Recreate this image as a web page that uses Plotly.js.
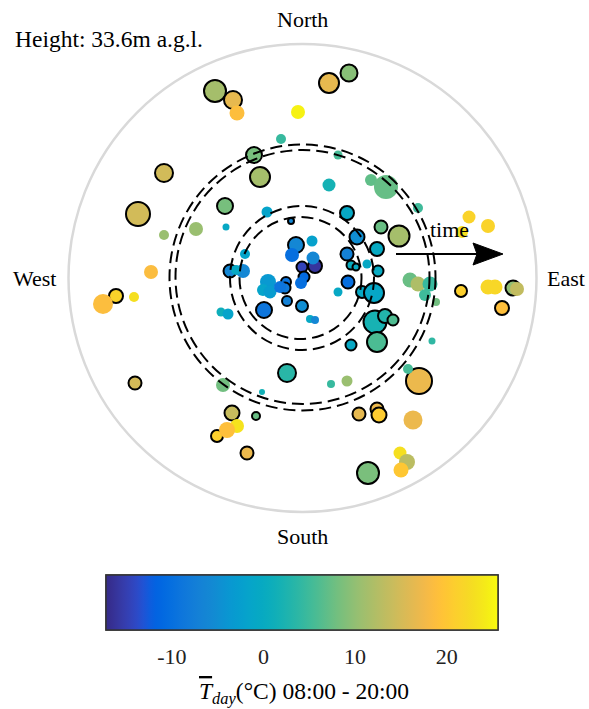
<!DOCTYPE html>
<html><head><meta charset="utf-8">
<script src="https://cdn.plot.ly/plotly-3.0.1.min.js"></script>
<style>html,body{margin:0;padding:0;background:#fff}</style>
</head><body>
<div id="chart" style="width:589px;height:709px"></div>
<script>
// ---- data (east/north offsets, diameter, mean day temperature) ----
// outlined bubbles
const outX = [-87,-69,-48,-42,-138,27,47,-77,-11,45,79,97,55,75,45,49,54,76,46,60,72,73,83,91,75,49,-6,0,13,2,-16,-17,-15,0,-38,-72,159,211,200,-164,-186,-167,-15,117,-70,-46,-85,-55,57,75,77,66];
const outY = [187,178,123,101,105,195,205,72,57,65,51,42,41,29,24,13,11,7,-4,-14,-15,-44,-38,-42,-64,-67,33,11,12,1,-4,-10,-23,-28,-32,7,-13,-10,-30,64,-18,-105,-95,-103,-135,-138,-158,-175,-136,-131,-137,-195];
const outD = [24,20,18,22,20,22,19,18,8,16,15,23,17,16,15,11,9,13,15,14,22,25,16,13,22,13,18,13,16,13,12,13,12,14,18,15,14,17,16,26,16,15,20,28,17,10,14,15,15,15,17,24];
const outT = [11.3,16.6,8.3,11.3,14.8,16.6,9.3,8.3,-6,-0.5,7.5,11.3,-5,-0.3,-7,0.5,0,0,-10,-0.5,-1,2,3,6,5.8,-0.5,-6,-14.5,-16,-11,-9,-8,-7,-5,-9,-6,21,10,19,14.8,21.5,15,3.5,17,14,7.5,21,17,16.5,17,20.5,8.5];
// bubbles without outline
const fillX = [-65,-4,-21,36,27,69,84,-106,-76,-35,65,36,130,108,116,128,123,134,116,167,186,160,186,193,215,-138,-151,-199,-168,10,-10,11,-1,-34,-39,-32,-22,8,13,-81,-74,-59,-66,-57,-79,-40,29,45,106,111,-65,-75,98,105,99];
const fillY = [165,166,139,123,93,98,91,49,51,66,14,-14,-63,-2,-6,-6,-17,-24,70,61,52,46,-9,-9,-11,43,6,-26,-19,37,23,20,-5,-4,-12,-14,-9,-41,-42,-34,-36,7,8,24,-107,-114,-106,-103,-91,-142,-148,-152,-175,-184,-192];
const fillD = [15,14,10,9,13,12,24,14,7,11,9,9,7,15,15,15,12,8,10,13,14,12,15,15,14,10,14,20,10,11,14,13,12,16,12,13,12,8,8,9,11,14,10,10,14,6,8,11,10,19,14,16,13,16,15];
const fillT = [18.8,24.8,4.5,5.5,1.8,7,7.3,10.5,-0.5,-1.5,-0.5,-0.5,4,7.5,12,4.5,5,8,5,21.5,21.5,23,22,22,13.5,10.5,18.5,18.7,23,-2,-10,-6,-10,-3.5,-1.5,-3,-9,-0.5,-6,1,-1.5,-6,-0.5,-1.5,8,1.5,4.5,10.5,5.5,17,23.5,19,23,13,20];

// colour bar
const tMin = -17.2, tMax = 25.6;
const tickVals = [-10, 0, 10, 20];
const tickText = ['-10', '0', '10', '20'];

// reference rings
const outerR = 234, outerCX = 0.5, outerCY = 0;
const dashCX = [0.5, 0.5, 0, -1.5];
const dashCY = [0.5, 1, 0, 0];
const dashR = [133, 127, 72, 61];

// compass labels
const compassText = ['North', 'South', 'West', 'East'];
const compassX = [0.5, 0.5, -268, 264];
const compassY = [259, -258, 0, 0];

// time arrow
const arrowX0 = 94, arrowX1 = 201, arrowY = 24, headLen = 30, headHalf = 11;

// parula (64)
const parula = [[0.2081,0.1663,0.5292],[0.2116,0.1898,0.5777],[0.2123,0.2138,0.6270],[0.2081,0.2386,0.6771],[0.1959,0.2645,0.7279],[0.1707,0.2919,0.7792],[0.1253,0.3242,0.8303],[0.0591,0.3598,0.8683],[0.0117,0.3875,0.8820],[0.0060,0.4086,0.8828],[0.0165,0.4266,0.8786],[0.0329,0.4430,0.8720],[0.0498,0.4586,0.8641],[0.0629,0.4737,0.8554],[0.0723,0.4887,0.8467],[0.0779,0.5040,0.8384],[0.0793,0.5200,0.8312],[0.0749,0.5375,0.8263],[0.0641,0.5570,0.8240],[0.0488,0.5772,0.8228],[0.0343,0.5966,0.8199],[0.0265,0.6137,0.8135],[0.0239,0.6287,0.8038],[0.0231,0.6418,0.7913],[0.0228,0.6535,0.7768],[0.0267,0.6642,0.7607],[0.0384,0.6743,0.7436],[0.0590,0.6838,0.7254],[0.0843,0.6928,0.7062],[0.1133,0.7015,0.6859],[0.1453,0.7098,0.6646],[0.1801,0.7177,0.6424],[0.2178,0.7250,0.6193],[0.2586,0.7317,0.5954],[0.3022,0.7376,0.5712],[0.3482,0.7424,0.5473],[0.3953,0.7459,0.5244],[0.4420,0.7481,0.5033],[0.4871,0.7491,0.4840],[0.5300,0.7491,0.4661],[0.5709,0.7485,0.4494],[0.6099,0.7473,0.4337],[0.6473,0.7456,0.4188],[0.6834,0.7435,0.4044],[0.7184,0.7411,0.3905],[0.7525,0.7384,0.3768],[0.7858,0.7356,0.3633],[0.8185,0.7327,0.3498],[0.8507,0.7299,0.3360],[0.8824,0.7274,0.3217],[0.9139,0.7258,0.3063],[0.9450,0.7261,0.2886],[0.9739,0.7314,0.2666],[0.9938,0.7455,0.2403],[0.9990,0.7653,0.2164],[0.9955,0.7861,0.1967],[0.9880,0.8066,0.1794],[0.9789,0.8271,0.1633],[0.9697,0.8481,0.1475],[0.9626,0.8705,0.1309],[0.9589,0.8949,0.1132],[0.9598,0.9218,0.0948],[0.9661,0.9514,0.0755],[0.9763,0.9831,0.0538]];
const colorscale = parula.map((c, i) => [i / (parula.length - 1),
  'rgb(' + c.map(v => Math.round(v * 255)).join(',') + ')']);

const FONT = 'Liberation Serif, Times New Roman, serif';

const traces = [
  {
    type: 'scatter', mode: 'markers', x: outX, y: outY, hoverinfo: 'skip',
    marker: { size: outD.map(d => d - 2), color: outT, coloraxis: 'coloraxis',
      line: { color: '#000', width: 2 }, opacity: 1 }
  },
  {
    type: 'scatter', mode: 'markers', x: fillX, y: fillY, hoverinfo: 'skip',
    marker: { size: fillD, color: fillT, coloraxis: 'coloraxis2',
      line: { width: 0 }, opacity: 1 }
  }
];

const shapes = [{
  type: 'circle', xref: 'x', yref: 'y', layer: 'below',
  x0: outerCX - outerR, x1: outerCX + outerR, y0: outerCY - outerR, y1: outerCY + outerR,
  line: { color: '#d9d9d9', width: 2.5 }
}];
dashR.forEach((r, i) => shapes.push({
  type: 'circle', xref: 'x', yref: 'y', layer: 'above',
  x0: dashCX[i] - r, x1: dashCX[i] + r, y0: dashCY[i] - r, y1: dashCY[i] + r,
  line: { color: '#000', width: 2, dash: '12px,6px' }
}));
shapes.push({
  type: 'line', xref: 'x', yref: 'y', layer: 'above',
  x0: arrowX0, x1: arrowX1 - headLen + 4, y0: arrowY, y1: arrowY,
  line: { color: '#000', width: 2 }
});
shapes.push({
  type: 'path', xref: 'x', yref: 'y', layer: 'above',
  path: 'M ' + arrowX1 + ' ' + arrowY +
        ' L ' + (arrowX1 - headLen) + ' ' + (arrowY + headHalf) +
        ' L ' + (arrowX1 - headLen + 4) + ' ' + arrowY +
        ' L ' + (arrowX1 - headLen) + ' ' + (arrowY - headHalf) + ' Z',
  fillcolor: '#000', line: { color: '#000', width: 1 }
});

const annotations = compassText.map((t, i) => ({
  text: t, x: compassX[i], y: compassY[i], xref: 'x', yref: 'y',
  showarrow: false, font: { family: FONT, size: 22, color: '#000' }
}));
annotations.push({
  text: 'Height: 33.6m a.g.l.', x: -289, y: 239, xref: 'x', yref: 'y',
  xanchor: 'left', showarrow: false, font: { family: FONT, size: 23.5, color: '#000' }
});
annotations.push({
  text: 'time', x: 147, y: 49, xref: 'x', yref: 'y',
  showarrow: false, font: { family: FONT, size: 22, color: '#000' }
});
annotations.push({
  text: '<span style="text-decoration:overline"><i>T</i></span><sub><i>day</i></sub>(°C) 08:00 - 20:00',
  x: 304 / 589, y: -137 / 556, xref: 'paper', yref: 'paper', yanchor: 'middle',
  showarrow: false, font: { family: FONT, size: 23.5, color: '#000' }
});

const barCommon = {
  orientation: 'h', xref: 'paper', x: 302 / 589, xanchor: 'center',
  yref: 'container', y: 1 - 575 / 709, yanchor: 'top',
  len: 392, lenmode: 'pixels', thickness: 55, thicknessmode: 'pixels',
  xpad: 0, ypad: 0, outlinewidth: 1.5, outlinecolor: '#333',
  tickmode: 'array', tickvals: tickVals, ticktext: tickText
};

const layout = {
  width: 589, height: 709,
  margin: { l: 0, r: 0, t: 0, b: 153, pad: 0 },
  paper_bgcolor: '#fff', plot_bgcolor: '#fff',
  showlegend: false,
  xaxis: { range: [-302, 287], visible: false, fixedrange: true },
  yaxis: { range: [-278, 278], visible: false, fixedrange: true },
  // bar + labels (labels pushed down by an invisible outside tick)
  coloraxis2: {
    colorscale: colorscale, cmin: tMin, cmax: tMax,
    colorbar: Object.assign({}, barCommon, {
      ticks: 'outside', ticklen: 7, tickcolor: 'rgba(0,0,0,0)',
      tickfont: { family: FONT, size: 22, color: '#222' }
    })
  },
  // same bar drawn on top with inside ticks only
  coloraxis: {
    colorscale: colorscale, cmin: tMin, cmax: tMax,
    colorbar: Object.assign({}, barCommon, {
      ticks: 'inside', ticklen: 5, tickwidth: 1.5, tickcolor: '#333',
      showticklabels: false
    })
  },
  shapes: shapes,
  annotations: annotations
};

Plotly.newPlot('chart', traces, layout, { staticPlot: true, displayModeBar: false });
</script>
</body></html>
